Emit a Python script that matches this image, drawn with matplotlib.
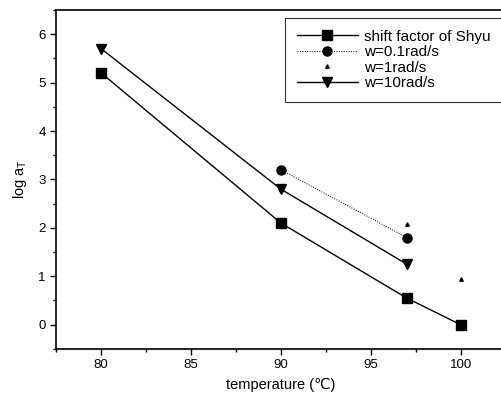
import matplotlib
matplotlib.use("Agg")
import matplotlib.pyplot as plt
from matplotlib.ticker import MultipleLocator

plt.rcParams['font.family'] = ['Liberation Sans', 'DejaVu Sans']

# ---------------- DATA ----------------
t_shyu = [80, 90, 97, 100]
a_shyu = [5.2, 2.1, 0.55, 0.0]

t_w01 = [90, 97]
a_w01 = [3.2, 1.8]

t_w1 = [97, 100]
a_w1 = [2.08, 0.95]

t_w10 = [80, 90, 97]
a_w10 = [5.7, 2.8, 1.25]

# ---------------- PLOT ----------------
fig = plt.figure(figsize=(5.02, 4.01), dpi=100)
ax = fig.add_axes([0.112, 0.130, 0.895, 0.845])

ax.plot(t_shyu, a_shyu, color='black', lw=1.0, marker='s', ms=6.5,
        label='shift factor of Shyu')
ax.plot(t_w01, a_w01, color='black', lw=0.7, ls=(0, (1, 1.5)), marker='o', ms=6.5,
        label='w=0.1rad/s')
ax.plot(t_w1, a_w1, color='black', lw=0, marker='^', ms=2.5,
        label='w=1rad/s')
ax.plot(t_w10, a_w10, color='black', lw=1.0, marker='v', ms=7,
        label='w=10rad/s')

ax.set_xlim(77.5, 102.5)
ax.set_ylim(-0.5, 6.5)
ax.xaxis.set_major_locator(MultipleLocator(5))
ax.xaxis.set_minor_locator(MultipleLocator(2.5))
ax.yaxis.set_major_locator(MultipleLocator(1))
ax.yaxis.set_minor_locator(MultipleLocator(0.5))
ax.tick_params(which='major', direction='out', length=4, width=1, labelsize=9.5)
ax.tick_params(which='minor', direction='out', length=2.5, width=1)
for s in ax.spines.values():
    s.set_linewidth(1.2)
ax.spines['right'].set_visible(False)

ax.set_xlabel('temperature (\u2103)', fontsize=10.5, labelpad=5)
ax.set_ylabel('log a$_\\mathregular{T}$', fontsize=10.5, labelpad=7)

leg = ax.legend(loc='upper right', bbox_to_anchor=(0.992, 0.976), borderaxespad=0,
                fontsize=11, frameon=True, fancybox=False, edgecolor='black',
                handlelength=4.0, handletextpad=0.4, borderpad=0.75,
                labelspacing=0.1)
leg.get_frame().set_linewidth(0.8)

fig.savefig("out.png", dpi=100)
